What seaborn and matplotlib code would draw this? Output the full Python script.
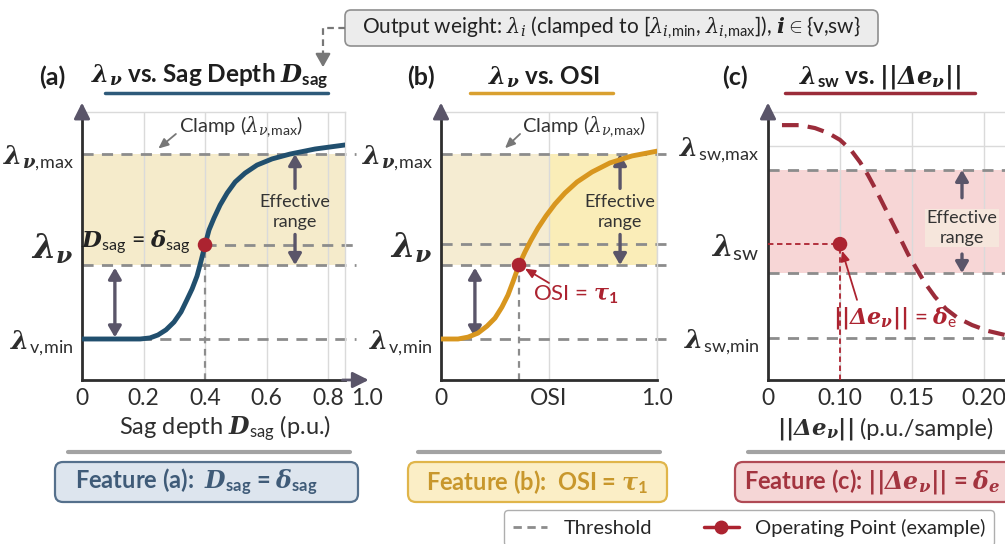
import numpy as np
import pandas as pd
import matplotlib
matplotlib.use("Agg")
import matplotlib.pyplot as plt
import seaborn as sns
from matplotlib.patches import FancyBboxPatch, FancyArrowPatch
from matplotlib.lines import Line2D
from matplotlib.transforms import IdentityTransform

W, H = 1005, 544

# =============================================================================
# DATA
# =============================================================================

# (a) lambda_v vs. sag depth
sag_depth = [0, 0.189, 0.221, 0.247, 0.273, 0.299, 0.322, 0.341, 0.358, 0.374,
             0.387, 0.400, 0.413, 0.429, 0.449, 0.472, 0.498, 0.530, 0.569,
             0.618, 0.676, 0.758, 0.855]
lam_v_sag = [0.153, 0.153, 0.157, 0.168, 0.187, 0.216, 0.254, 0.299, 0.340,
             0.388, 0.444, 0.504, 0.560, 0.604, 0.653, 0.698, 0.739, 0.772,
             0.802, 0.825, 0.843, 0.862, 0.877]
sag_op = [0.40, 0.504]
sag_levels = [0.153, 0.504, 0.843]          # lambda_v,min / lambda_v / lambda_v,max
sag_band_low = 0.429
sag_ticks = [0, 0.2, 0.4, 0.6, 0.8]
sag_tick_labels = ["0", "0.2", "0.4", "0.6", "0.8"]
sag_end_label = "1.0"

# (b) lambda_v vs. OSI
osi = [0, 0.079, 0.125, 0.171, 0.213, 0.250, 0.282, 0.310, 0.333, 0.361, 0.389,
       0.417, 0.449, 0.486, 0.528, 0.574, 0.630, 0.699, 0.782, 0.884, 1.0]
lam_v_osi = [0.153, 0.153, 0.160, 0.175, 0.201, 0.231, 0.272, 0.317, 0.366,
             0.429, 0.478, 0.522, 0.567, 0.612, 0.657, 0.698, 0.739, 0.776,
             0.810, 0.836, 0.854]
osi_op = [0.361, 0.429]
osi_levels = [0.153, 0.507, 0.843]
osi_band_low = 0.429
osi_ticks = [0, 0.5, 1.0]
osi_tick_labels = ["0", "OSI", "1.0"]

# (c) lambda_sw vs. ||delta e_v||
dev = [0.0194, 0.0444, 0.0653, 0.0833, 0.100, 0.1076, 0.1139, 0.1194, 0.125,
       0.1306, 0.1361, 0.1417, 0.1472, 0.1528, 0.1590, 0.1660, 0.1736, 0.1819,
       0.1917, 0.2028, 0.2146]
lam_sw = [0.951, 0.951, 0.940, 0.922, 0.896, 0.858, 0.813, 0.765, 0.709, 0.649,
          0.590, 0.530, 0.470, 0.418, 0.362, 0.310, 0.265, 0.231, 0.205, 0.183,
          0.168]
dev_op = [0.10, 0.507]
sw_levels = [0.157, 0.507, 0.873]
sw_band = [0.399, 0.784]
dev_ticks = [0, 0.10, 0.15, 0.20]
dev_tick_labels = ["0", "0.10", "0.15", "0.20"]
# the reference axis is drawn with unequal spacing: 0 | 0.10 | 0.15 | 0.20
dev_anchor = [-0.1, 0, 0.10, 0.15, 0.20, 0.30]
dev_slot = [-1, 0, 1, 2, 3, 5]

# =============================================================================
# STYLE
# =============================================================================

sns.set_theme(style="white", context="notebook")
plt.rcParams["font.family"] = ["Lato", "DejaVu Sans"]
plt.rcParams["mathtext.fontset"] = "custom"
plt.rcParams["mathtext.rm"] = "Lato"
plt.rcParams["mathtext.it"] = "DejaVu Serif:italic"
plt.rcParams["mathtext.bf"] = "DejaVu Serif:italic:bold"
plt.rcParams["mathtext.sf"] = "Lato:bold"

DARK = "#2e2e2e"
THR = "#8c8c8c"
ARROW = "#5a5569"
GRID = "#dadada"
BLUE = "#214f6e"
GOLD = "#d8961e"
WINE = "#9b2c3a"
RED = "#ac2330"

fig = plt.figure(figsize=(W / 100, H / 100), dpi=100)
fig.patch.set_facecolor("white")


def fig_line(xs, ys, **kw):
    fig.add_artist(Line2D(xs, [H - y for y in ys], transform=IdentityTransform(), **kw))


def fig_box(x0, y0, x1, y1, fc, ec, lw=1.6, r=8):
    fig.add_artist(FancyBboxPatch((x0, H - y1), x1 - x0, y1 - y0,
                                  boxstyle=f"round,pad=0,rounding_size={r}",
                                  transform=IdentityTransform(), fc=fc, ec=ec, lw=lw))


def fig_text(x, y, s, **kw):
    fig.text(x, H - y, s, transform=IdentityTransform(), **kw)


def make_axes(left, width):
    ax = fig.add_axes([left / W, 1 - 380 / H, width / W, 268 / H])
    ax.set_facecolor("none")
    for s in ("left", "bottom"):
        ax.spines[s].set_color(DARK)
        ax.spines[s].set_linewidth(2)
    for s in ("top", "right"):
        ax.spines[s].set_color(GRID)
        ax.spines[s].set_linewidth(1)
    ax.tick_params(axis="x", colors=DARK, labelsize=16.5, length=0, pad=6)
    ax.tick_params(axis="y", colors=DARK, length=4, width=1.3, pad=2)
    ax.set_ylim(0, 1)
    ax.annotate("", xy=(0, 1.035), xytext=(0, 0.99), xycoords="axes fraction",
                arrowprops=dict(arrowstyle="-|>,head_length=0.8,head_width=0.4",
                                color=ARROW, lw=2, shrinkA=0, shrinkB=0),
                annotation_clip=False)
    return ax


def v_arrow(ax, x, y0, y1, style="-|>", color=ARROW, lw=2.4):
    ax.annotate("", xy=(x, y1), xytext=(x, y0), xycoords=ax.get_yaxis_transform(),
                arrowprops=dict(arrowstyle=style + ",head_length=0.55,head_width=0.32",
                                color=color, lw=lw, shrinkA=0, shrinkB=0),
                annotation_clip=False)


def thin_arrow(ax, tail, head, color, coords=None):
    coords = coords or ax.get_yaxis_transform()
    ax.annotate("", xy=head, xytext=tail, xycoords=coords, textcoords=ax.get_yaxis_transform(),
                arrowprops=dict(arrowstyle="-|>,head_length=0.5,head_width=0.22",
                                color=color, lw=1.3, shrinkA=0, shrinkB=5),
                annotation_clip=False)


def thresholds(ax, levels, x0=0):
    x1 = ax.get_xlim()[1]
    ax.hlines(levels, x0, x1 * 1.04, colors=THR, linestyles=(0, (4, 3)), lw=2,
              clip_on=False, zorder=2)


def y_labels(ax, ticks, labels, sizes):
    ax.set_yticks(ticks, labels=labels)
    for lbl, s in zip(ax.get_yticklabels(), sizes):
        lbl.set_fontsize(s)


LAM_MAX = r"$\mathbf{\lambda}_{\mathbf{\nu},\!\mathrm{max}}$"
LAM_MIN = r"$\mathbf{\lambda}_{\mathrm{v},\!\mathrm{min}}$"
LAM_V = r"$\mathbf{\lambda_\nu}$"
LAM_SIZES = [18.5, 24, 18.5]
CLAMP = r"Clamp ($\lambda_{\nu,\!\mathrm{max}}$)"

# =============================================================================
# PANEL (a)
# =============================================================================

ax_a = make_axes(82, 263)
df_a = pd.DataFrame({"x": sag_depth, "y": lam_v_sag})
ax_a.set_xlim(0, 0.855)
ax_a.axhspan(sag_band_low, sag_levels[2], color="#f5ebcb", lw=0, zorder=0)
ax_a.grid(axis="x", color=GRID, lw=1)
thresholds(ax_a, [sag_levels[0], sag_band_low, sag_levels[2]])
thresholds(ax_a, [sag_levels[1]], x0=sag_op[0])
ax_a.vlines(sag_op[0], 0, sag_op[1], colors=THR, linestyles=(0, (3, 2.5)), lw=1.6, zorder=2)
sns.lineplot(data=df_a, x="x", y="y", ax=ax_a, color=BLUE, lw=3.5, zorder=4)
sns.scatterplot(x=[sag_op[0]], y=[sag_op[1]], ax=ax_a, color=RED, s=110,
                edgecolor="none", zorder=6)
ax_a.set_xticks(sag_ticks, labels=sag_tick_labels)
ax_a.annotate(sag_end_label, xy=(1.084, 0), xycoords="axes fraction", xytext=(0, -6),
              textcoords="offset points", ha="center", va="top", fontsize=16.5, color=DARK)
ax_a.annotate("", xy=(1.09, 0), xytext=(0.99, 0), xycoords="axes fraction",
              arrowprops=dict(arrowstyle="-|>,head_length=0.8,head_width=0.4",
                              color=ARROW, lw=2, shrinkA=0, shrinkB=0),
              annotation_clip=False)
y_labels(ax_a, sag_levels, [LAM_MIN, LAM_V, LAM_MAX], LAM_SIZES)
ax_a.set_xlabel(r"Sag depth $\mathbf{D}_{\mathrm{sag}}$ (p.u.)", fontsize=17, color=DARK)
ax_a.xaxis.set_label_coords(0.544, -0.125)
ax_a.set_ylabel("")

tr = ax_a.get_yaxis_transform()
ax_a.text(0.605, 0.944, CLAMP, transform=tr, ha="center", va="center",
          fontsize=14.5, color="#333333")
thin_arrow(ax_a, (0.357, 0.918), (0.27, sag_levels[2] + 0.004), "#777777")
ax_a.text(0.205, sag_levels[1] + 0.01,
          r"$\mathbf{D}_{\mathrm{sag}}$ = $\mathbf{\delta}_{\mathrm{sag}}$",
          transform=tr, ha="center", va="center", fontsize=16.5, color="#222222")
ax_a.text(0.81, 0.627, "Effective\nrange", transform=tr, ha="center", va="center",
          fontsize=13, color="#333333", linespacing=1.25)
v_arrow(ax_a, 0.81, 0.715, sag_levels[2])
v_arrow(ax_a, 0.81, 0.543, sag_band_low)
v_arrow(ax_a, 0.125, sag_levels[0] + 0.006, sag_band_low - 0.01, style="<|-|>")

# =============================================================================
# PANEL (b)
# =============================================================================

ax_b = make_axes(441, 216)
df_b = pd.DataFrame({"x": osi, "y": lam_v_osi})
ax_b.set_xlim(0, 1.0)
# the band is paler left of the OSI gridline and more yellow to its right
mid = osi_ticks[1] / osi_ticks[2]
ax_b.axhspan(osi_band_low, osi_levels[2], xmin=0, xmax=mid, color="#f5ecd2", lw=0, zorder=0)
ax_b.axhspan(osi_band_low, osi_levels[2], xmin=mid, xmax=1, color="#faedb8", lw=0, zorder=0)
ax_b.grid(axis="x", color=GRID, lw=1)
thresholds(ax_b, [osi_levels[0], osi_band_low, osi_levels[1], osi_levels[2]])
ax_b.vlines(osi_op[0], 0, osi_op[1], colors=THR, linestyles=(0, (3, 2.5)), lw=1.6, zorder=2)
sns.lineplot(data=df_b, x="x", y="y", ax=ax_b, color=GOLD, lw=3.5, zorder=4)
sns.scatterplot(x=[osi_op[0]], y=[osi_op[1]], ax=ax_b, color=RED, s=110,
                edgecolor="none", zorder=6)
ax_b.set_xticks(osi_ticks, labels=osi_tick_labels)
y_labels(ax_b, osi_levels, [LAM_MIN, LAM_V, LAM_MAX], LAM_SIZES)
ax_b.set_xlabel("")
ax_b.set_ylabel("")

tr = ax_b.get_yaxis_transform()
ax_b.text(0.662, 0.944, CLAMP, transform=tr, ha="center", va="center",
          fontsize=14.5, color="#333333")
thin_arrow(ax_b, (0.366, 0.918), (0.273, osi_levels[2] + 0.004), "#777777")
ax_b.text(0.829, 0.627, "Effective\nrange", transform=tr, ha="center", va="center",
          fontsize=13, color="#333333", linespacing=1.25)
v_arrow(ax_b, 0.829, 0.715, osi_levels[2])
v_arrow(ax_b, 0.829, 0.543, osi_band_low)
v_arrow(ax_b, 0.157, osi_levels[0] + 0.006, osi_band_low - 0.01, style="<|-|>")
ax_b.text(0.625, 0.318, r"OSI = $\mathbf{\tau}_{\mathsf{1}}$", transform=tr,
          ha="center", va="center", fontsize=16, color=RED)
thin_arrow(ax_b, (0.50, 0.362), (osi_op[0], osi_op[1]), RED, coords="data")

# =============================================================================
# PANEL (c)
# =============================================================================

ax_c = make_axes(768, 250)
df_c = pd.DataFrame({"x": dev, "y": lam_sw})
ax_c.set_xscale("function", functions=(lambda v: np.interp(v, dev_anchor, dev_slot),
                                        lambda u: np.interp(u, dev_slot, dev_anchor)))
ax_c.axhspan(sw_band[0], sw_band[1], color="#f7d6d6", lw=0, zorder=0)
sns.lineplot(data=df_c, x="x", y="y", ax=ax_c, color=WINE, lw=3, zorder=4)
ax_c.lines[-1].set_linestyle((0, (4, 2.2)))
ax_c.set_xlim(0, 0.2236)
ax_c.set_xticks(dev_ticks, labels=dev_tick_labels)
ax_c.grid(axis="x", color=GRID, lw=1)
ax_c.axhline(sw_levels[2], color=GRID, lw=1, zorder=0.5)
thresholds(ax_c, [sw_levels[0], sw_band[0], sw_band[1]])
ax_c.hlines(dev_op[1], 0, dev_op[0], colors=RED, linestyles=(0, (3, 2)), lw=1.3, zorder=3)
ax_c.vlines(dev_op[0], 0, dev_op[1], colors=RED, linestyles=(0, (3, 2)), lw=1.3, zorder=3)
sns.scatterplot(x=[dev_op[0]], y=[dev_op[1]], ax=ax_c, color=RED, s=110,
                edgecolor="none", zorder=6)
y_labels(ax_c, sw_levels,
         [r"$\mathbf{\lambda}_{\mathrm{sw},\!\mathrm{min}}$", r"$\mathbf{\lambda}_{\mathrm{sw}}$",
          r"$\mathbf{\lambda}_{\mathrm{sw},\!\mathrm{max}}$"], [18.5, 21, 18.5])
ax_c.set_xlabel("")
ax_c.set_ylabel("")

tr = ax_c.get_yaxis_transform()
ax_c.text(0.776, 0.567, "Effective\nrange", transform=tr, ha="center", va="center",
          fontsize=13, color="#333333", linespacing=1.25,
          bbox=dict(boxstyle="square,pad=0.1", fc="#f6e6dc", ec="none"))
v_arrow(ax_c, 0.776, 0.68, sw_band[1])
v_arrow(ax_c, 0.776, 0.47, sw_band[0])
ax_c.text(0.51, 0.231, r"$\mathbf{||\Delta e_\nu||}$ = $\mathbf{\delta}_{\mathrm{e}}$",
          transform=tr, ha="center", va="center", fontsize=16, color=RED)
thin_arrow(ax_c, (0.356, 0.299), (dev_op[0], dev_op[1]), RED, coords="data")

# x label of (c): symbol larger than unit text
fig_text(854, 429, r"$\mathbf{||\Delta e_\nu||}$", ha="right", va="center",
         fontsize=16.5, color=DARK)
fig_text(860, 429, "(p.u./sample)", ha="left", va="center", fontsize=17, color=DARK)

# =============================================================================
# TITLES, BOXES, LEGEND
# =============================================================================

fig_box(345, 10, 878, 46, fc="#ececec", ec="#8f8f8f", lw=1.2, r=6)
fig_text(612, 28, r"Output weight: $\lambda_i$ (clamped to [$\lambda_{i,\!\mathrm{min}}$, "
         r"$\lambda_{i,\!\mathrm{max}}$]), $\mathbf{i}\in${v,sw}",
         ha="center", va="center", fontsize=15, color="#222222")
fig_line([345, 323, 323], [28, 28, 58], color="#777777", lw=1.6, ls=(0, (3, 2)))
fig.add_artist(FancyArrowPatch((323, H - 56), (323, H - 70), transform=IdentityTransform(),
                               arrowstyle="-|>,head_length=0.8,head_width=0.45",
                               mutation_scale=10, color="#777777", lw=1.6))

for x, label in [(52, "(a)"), (421, "(b)"), (735, "(c)")]:
    fig_text(x, 77, label, ha="center", va="center", fontsize=18, fontweight="bold",
             color="#1e1e1e")
fig_text(210, 77, r"$\mathbf{\lambda_\nu}$ vs. Sag Depth $\mathbf{D}_{\mathsf{sag}}$",
         ha="center", va="center", fontsize=17.5, fontweight="bold", color="#1e1e1e")
fig_text(544, 77, r"$\mathbf{\lambda_\nu}$ vs. OSI",
         ha="center", va="center", fontsize=17.5, fontweight="bold", color="#1e1e1e")
fig_text(880, 77, r"$\mathbf{\lambda}_{\mathsf{sw}}$ vs. $\mathbf{||\Delta e_\nu||}$",
         ha="center", va="center", fontsize=17.5, fontweight="bold", color="#1e1e1e")
fig_line([105, 328], [93, 93], color="#2e5a7a", lw=2.5)
fig_line([470, 613], [93, 93], color="#d9a030", lw=2.5)
fig_line([785, 975], [93, 93], color=WINE, lw=2.5)

for x0, x1 in [(68, 350), (418, 660), (748, 1005)]:
    fig_line([x0, x1], [452, 452], color="#a3a3a3", lw=3)

fig_box(55, 462, 358, 502, fc="#dde5ee", ec="#55708c")
fig_text(196, 482, r"Feature (a):  $\mathbf{D}_{\mathsf{sag}}$ = $\mathbf{\delta}_{\mathsf{sag}}$",
         ha="center", va="center", fontsize=17, fontweight="bold", color="#3f5b78")
fig_box(408, 462, 667, 502, fc="#fbeec6", ec="#e0b54a")
fig_text(537, 482, r"Feature (b):  OSI = $\mathbf{\tau}_{\mathsf{1}}$",
         ha="center", va="center", fontsize=17, fontweight="bold", color="#c8972c")
fig_box(735, 462, 1012, 502, fc="#f5d6d6", ec="#b04a55")
fig_text(872, 482, r"Feature (c): $\mathbf{||\Delta e_\nu||}$ = $\mathbf{\delta}_{\mathbf{e}}$",
         ha="center", va="center", fontsize=17, fontweight="bold", color="#a3343f")

handles = [Line2D([], [], color=THR, ls=(0, (3, 2)), lw=2),
           Line2D([], [], color=RED, marker="o", ms=9, lw=2.5)]
fig.legend(handles, ["Threshold", "Operating Point (example)"], loc="upper left",
           bbox_to_anchor=(494 / W, 1 - 500 / H), ncol=2, fontsize=14.5, frameon=True,
           fancybox=True, edgecolor="#9a9a9a", handlelength=1.7, columnspacing=2.6,
           borderpad=0.45)

fig.savefig("out.png", dpi=100, facecolor="white")
